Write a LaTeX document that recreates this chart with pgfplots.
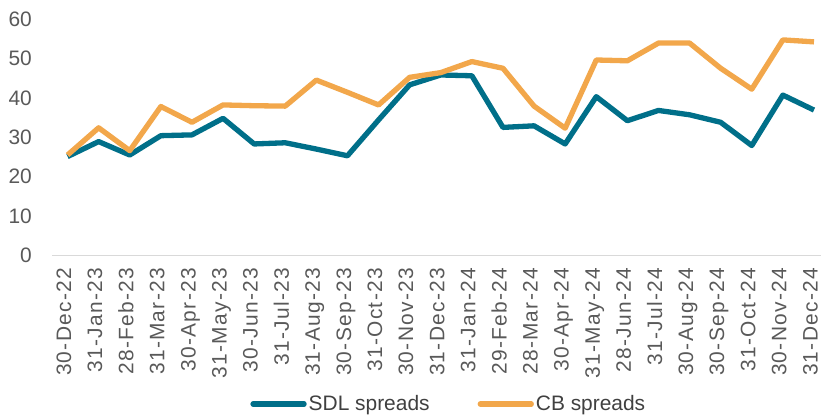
\documentclass[border=0pt]{standalone}
\usepackage{fontspec}
\setmainfont{Liberation Sans}
\newfontfamily\spaced[LetterSpace=6]{Liberation Sans}
\usepackage{pgfplots}
\usepackage{pgfplotstable}
\pgfplotsset{compat=1.18}
\definecolor{sdl}{HTML}{006F89}
\definecolor{cb}{HTML}{F2A74B}
\definecolor{tickgray}{HTML}{595959}
\definecolor{axisgray}{HTML}{D9D9D9}
\pgfplotstableread{
x sdl cb
0 25.1 25.5
1 28.9 32.4
2 25.5 26.6
3 30.4 37.8
4 30.6 33.8
5 34.8 38.2
6 28.3 38.0
7 28.6 37.9
8 27.0 44.5
9 25.3 41.4
10 34.4 38.2
11 43.3 45.2
12 45.8 46.4
13 45.6 49.2
14 32.5 47.5
15 32.9 37.9
16 28.3 32.3
17 40.3 49.6
18 34.2 49.4
19 36.8 53.9
20 35.7 53.9
21 33.8 47.5
22 27.9 42.2
23 40.7 54.7
24 36.9 54.2
}\datatable
\begin{document}
\begin{tikzpicture}
\useasboundingbox (0,0) rectangle (821bp,416bp);
\begin{axis}[
  at={(52bp,160.5bp)}, anchor=south west,
  scale only axis, width=769bp, height=236.5bp,
  xmin=-0.5, xmax=24.226, ymin=0, ymax=60,
  axis x line*=bottom, axis y line*=left,
  y axis line style={draw=none},
  x axis line style={draw=axisgray, line width=1.3bp},
  ytick={0,10,...,60},
  ytick style={draw=none},
  xtick={0,...,24},
  xticklabels={30-Dec-22,31-Jan-23,28-Feb-23,31-Mar-23,30-Apr-23,31-May-23,30-Jun-23,31-Jul-23,31-Aug-23,30-Sep-23,31-Oct-23,30-Nov-23,31-Dec-23,31-Jan-24,29-Feb-24,28-Mar-24,30-Apr-24,31-May-24,28-Jun-24,31-Jul-24,30-Aug-24,30-Sep-24,31-Oct-24,30-Nov-24,31-Dec-24},
  xtick style={draw=none},
  extra x ticks={-0.5,0.5,...,23.5},
  extra x tick labels={},
  extra x tick style={tick align=outside, major tick length=5bp, tick style={draw=axisgray, line width=1.3bp}},
  /pgf/number format/assume math mode=true,
  tick label style={font=\fontsize{21}{25}\selectfont, text=tickgray},
  yticklabel style={anchor=east, inner sep=0pt, xshift=-20bp},
  xticklabel style={font=\spaced\fontsize{21}{25}\selectfont, yshift=-12.5bp, rotate=90, anchor=east, inner sep=0pt, text height=0.716em, text depth=0pt},
  legend columns=2,
  legend style={at={(0.516,-0.628)}, anchor=center, draw=none, fill=none,
    font=\fontsize{21}{25}\selectfont, text=black!75,
    /tikz/every even column/.append style={column sep=46bp},
    inner sep=0pt, row sep=0pt},
  legend cell align=left,
  legend image code/.code={\draw[#1, line cap=round] (2.5bp,0) -- (53.5bp,0);},
]
\addplot[sdl, line width=5.3bp, line join=round] table[x=x, y=sdl] {\datatable};
\addlegendentry{SDL spreads}
\addplot[cb, line width=5.3bp, line join=round] table[x=x, y=cb] {\datatable};
\addlegendentry{CB spreads}
\end{axis}
\end{tikzpicture}
\end{document}
